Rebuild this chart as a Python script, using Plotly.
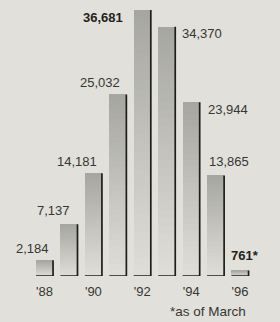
import plotly.graph_objects as go

# ---- data ----
years = [1988, 1989, 1990, 1991, 1992, 1993, 1994, 1995, 1996]
values = [2184, 7137, 14181, 25032, 36681, 34370, 23944, 13865, 761]
value_suffix = ["", "", "", "", "", "", "", "", "*"]
bold_labels = [False, False, False, False, True, False, False, False, True]
tick_years = [1988, 1990, 1992, 1994, 1996]
tick_text = ["'88", "'90", "'92", "'94", "'96"]
footnote = "*as of March"

# ---- style ----
BG = "#e2e0da"
TEXT = "#363633"
HALF = 0.35
N_SEG = 30
TOP_RGB = (166, 166, 160)
BOT_RGB = (224, 222, 216)
FONT = "Liberation Sans"

# label placement: (edge, xanchor, yanchor, xshift, yshift)
placement = [
    ("r", "right", "bottom", -2, 2),
    ("r", "right", "bottom", -5, 4),
    ("r", "right", "bottom", -3, 2),
    ("r", "right", "bottom", -4, 2),
    ("l", "right", "middle", -9, -7),
    ("r", "left", "middle", 5, -7),
    ("r", "left", "middle", 6, -7),
    ("l", "left", "bottom", 0, 4),
    ("l", "left", "bottom", -2, 5),
]

fig = go.Figure()

# gradient bars as stacked slices of each bar's own height
for k in range(N_SEG):
    t = (k + 0.5) / N_SEG  # 0 bottom -> 1 top
    c = tuple(round(BOT_RGB[i] + (TOP_RGB[i] - BOT_RGB[i]) * t) for i in range(3))
    fig.add_trace(go.Bar(
        x=years,
        y=[v / N_SEG for v in values],
        width=2 * HALF,
        marker=dict(color="rgb(%d,%d,%d)" % c, line=dict(width=0)),
        hoverinfo="skip",
        showlegend=False,
    ))

# bottom and right edge lines
lx, ly = [], []
for yr, v in zip(years, values):
    lx += [yr - HALF, yr + HALF, yr + HALF, None]
    ly += [0, 0, v, None]
fig.add_trace(go.Scatter(
    x=lx, y=ly, mode="lines",
    line=dict(color="#1e1e1c", width=1.7),
    cliponaxis=False, hoverinfo="skip", showlegend=False,
))

# value labels
for yr, v, suf, b, p in zip(years, values, value_suffix, bold_labels, placement):
    edge, xa, ya, xs, ys = p
    txt = "{:,}".format(v) + suf
    if b:
        txt = "<b>" + txt + "</b>"
    fig.add_annotation(
        x=yr + (HALF if edge == "r" else -HALF), y=v,
        xref="x", yref="y",
        text=txt, showarrow=False,
        xanchor=xa, yanchor=ya, xshift=xs, yshift=ys,
        font=dict(family=FONT, size=13, color="#222220" if b else TEXT),
    )

fig.add_annotation(
    x=248 / 280, y=-0.13, xref="paper", yref="paper",
    text=footnote, showarrow=False, xanchor="right", yanchor="middle",
    font=dict(family=FONT, size=13.5, color=TEXT),
)

px_per_year = 24.44
x0 = 1988 - 44.5 / px_per_year
x1 = 1988 + (280 - 44.5) / px_per_year

fig.update_layout(
    width=280, height=322,
    margin=dict(l=0, r=0, t=0, b=46),
    paper_bgcolor=BG, plot_bgcolor=BG,
    barmode="stack", bargap=0,
    xaxis=dict(
        range=[x0, x1], tickvals=tick_years, ticktext=tick_text,
        showgrid=False, zeroline=False, showline=False,
        ticks="outside", ticklen=3, tickcolor="rgba(0,0,0,0)",
        tickfont=dict(family=FONT, size=13, color=TEXT),
        fixedrange=True,
    ),
    yaxis=dict(
        range=[0, 276 * 36681 / 266], visible=False,
        showgrid=False, zeroline=False, fixedrange=True,
    ),
)

fig.write_html(
    "out.html",
    config={"displayModeBar": False},
    post_script="document.body.style.margin='0';document.body.style.background='%s';" % BG,
)
